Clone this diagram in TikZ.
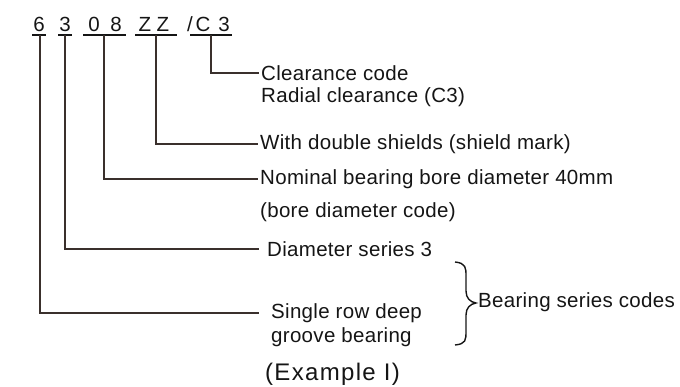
\documentclass[tikz,border=0pt]{standalone}
\usepackage{fontspec}
\setmainfont{Liberation Sans}[LetterSpace=1.5]
\newfontfamily\exfont{Liberation Sans}[LetterSpace=5.5]
\begin{document}
\begin{tikzpicture}[x=1pt,y=-1pt,
  lbl/.style={anchor=west,inner sep=0pt,font=\fontsize{20.5}{24}\selectfont,text=txt},
  code/.style={anchor=base,inner sep=0pt,font=\fontsize{20.5}{24}\selectfont,text=txt},
  lead/.style={draw=ln,line width=1.2pt},
  uline/.style={draw=txt,line width=1.4pt}]
\definecolor{txt}{HTML}{151515}
\definecolor{ln}{HTML}{3A302C}
\useasboundingbox (0,0) rectangle (680,387);
% top code
\node[code] (c6) at (39,32) {6};
\node[code] (c3) at (65,32) {3};
\node[code] (c0) at (94,32) {0};
\node[code] (c8) at (116,32) {8};
\node[code] (cZ1) at (145,32) {Z};
\node[code] (cZ2) at (163,32) {Z};
\node[code] (cSl) at (190,32) {/};
\node[code] (cC) at (203,32) {C};
\node[code] (cT) at (224,32) {3};
\coordinate (u6a) at (32,35); \coordinate (u6b) at (46,35);
\coordinate (u3a) at (58,35); \coordinate (u3b) at (72,35);
\coordinate (u8a) at (83,35); \coordinate (u8b) at (126,35);
\coordinate (uZa) at (135,35); \coordinate (uZb) at (177,35);
\coordinate (uCa) at (190,35); \coordinate (uCb) at (232,35);
\draw[uline] (u6a) -- (u6b);
\draw[uline] (u3a) -- (u3b);
\draw[uline] (u8a) -- (u8b);
\draw[uline] (uZa) -- (uZb);
\draw[uline] (uCa) -- (uCb);
% labels
\node[lbl] (lC1) at (261,73) {Clearance code};
\node[lbl] (lC2) at (261,97) {Radial clearance (C3)};
\node[lbl] (lZ) at (260,144) {With double shields (shield mark)};
\node[lbl] (lN1) at (260,179) {Nominal bearing bore diameter 40mm};
\node[lbl] (lN2) at (260,212) {(bore diameter code)};
\node[lbl] (lD) at (267,249) {Diameter series 3};
\node[lbl] (lS1) at (271,313) {Single row deep};
\node[lbl] (lS2) at (271,337) {groove bearing};
\node[lbl] (lB) at (478,302) {Bearing series codes};
\node[anchor=west,inner sep=0pt,font=\exfont\fontsize{24}{28}\selectfont,text=txt] (ex) at (265,374) {(Example I)};
% leaders
\draw[lead] (211,35) |- ([xshift=-2pt]lC1.west);
\draw[lead] (156,35) |- ([xshift=-2pt]lZ.west);
\draw[lead] (104,35) |- ([xshift=-2pt]lN1.west);
\draw[lead] (65,35) |- ([xshift=-8pt]lD.west);
\draw[lead] (40,35) |- ([xshift=-12pt]lS1.west);
% brace
\draw[draw=txt,line width=1.4pt] (455,262) .. controls (466,263) and (466,268) .. (466,276)
  -- (466,291) .. controls (466,298) and (470,302) .. (476,303)
  .. controls (470,304) and (466,308) .. (466,315)
  -- (466,331) .. controls (466,340) and (466,344) .. (455,345);
\end{tikzpicture}
\end{document}
